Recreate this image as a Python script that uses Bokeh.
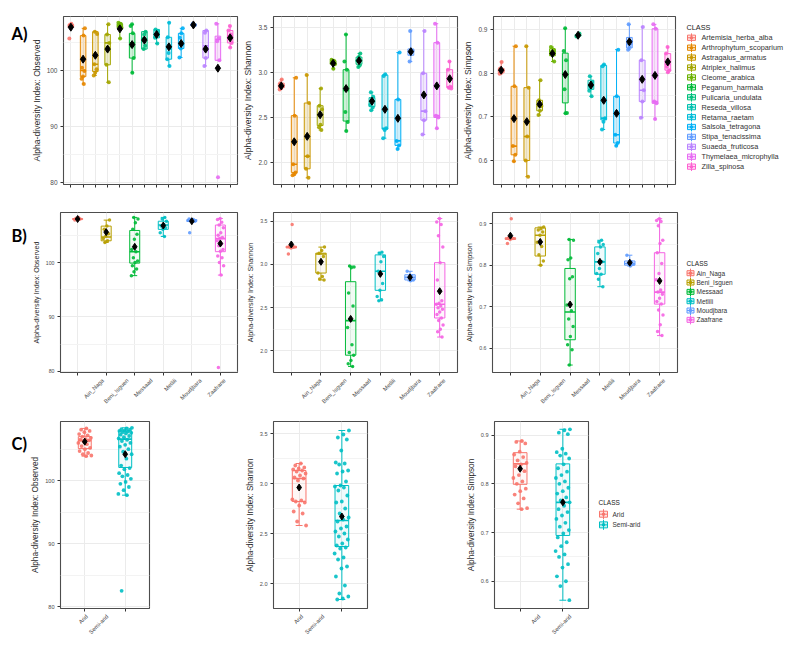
import math
from bokeh.plotting import figure
from bokeh.layouts import row, column
from bokeh.models import Range1d, FixedTicker, ColumnDataSource, PrintfTickFormatter, Spacer
from bokeh.embed import file_html
from bokeh.resources import INLINE
from bokeh.core.properties import value

FONT = "Liberation Sans"

# ---------------- categories & colours ----------------
species = ["Artemisia_herba_alba", "Arthrophytum_scoparium", "Astragalus_armatus", "Atriplex_halimus",
           "Cleome_arabica", "Peganum_harmala", "Pulicaria_undulata", "Reseda_villosa", "Retama_raetam",
           "Salsola_tetragona", "Stipa_tenacissima", "Suaeda_fruticosa", "Thymelaea_microphylla", "Zilla_spinosa"]
species_colors = ["#F8766D", "#E58700", "#C99800", "#A3A500", "#6BB100", "#00BA38", "#00BF7D",
                  "#00C0AF", "#00BCD8", "#00B0F6", "#619CFF", "#B983FF", "#E76BF3", "#FD61D1"]
sites = ["Ain_Naga", "Beni_Isguen", "Messaad", "Metlili", "Moudjbara", "Zaafrane"]
site_colors = ["#F8766D", "#B79F00", "#00BA38", "#00BFC4", "#619CFF", "#F564E3"]
climates = ["Arid", "Semi-arid"]
climate_colors = ["#F8766D", "#00BFC4"]
panel_tags = ["A)", "B)", "C)"]

obs_ticks = [80, 90, 100]
sha_ticks = [2.0, 2.5, 3.0, 3.5]
sim_ticks = [0.6, 0.7, 0.8, 0.9]

# ---------------- Row A : by plant species ----------------
# box = [lower whisker, q1, median, q3, upper whisker]
A_obs_pts = [[108.3, 108.1, 107.9, 107.6, 105.7], [107.5, 106.2, 100.5, 99.9, 98.9, 98.5, 97.6],
             [106.9, 106.5, 102.6, 101.1, 100.2, 99.6, 99.1], [108.2, 106.4, 104.9, 104.1, 101.0, 97.9],
             [108.5, 108.3, 108.0, 107.6, 105.7], [108.2, 107.9, 106.6, 104.4, 102.2, 99.6],
             [106.9, 106.4, 105.6, 104.4, 103.8], [107.3, 107.0, 106.4, 105.8, 104.8],
             [108.5, 105.9, 104.0, 103.1, 102.0, 100.8], [107.5, 106.6, 105.8, 104.6, 103.9, 102.3],
             [108.3, 108.1, 107.9], [107.1, 106.7, 103.8, 102.2, 100.8],
             [108.3, 105.7, 105.2, 101.8, 81.0], [107.9, 107.1, 106.4, 105.8, 104.9, 104.1]]
A_obs_box = [[107.6, 107.7, 107.9, 108.2, 108.3], [97.6, 98.9, 100.0, 106.2, 107.5],
             [99.1, 99.8, 101.1, 106.9, 106.9], [97.9, 101.0, 104.9, 106.4, 108.2],
             [105.7, 107.6, 107.9, 108.3, 108.5], [99.6, 102.2, 104.9, 106.6, 108.2],
             [103.8, 103.8, 105.6, 106.9, 106.9], [104.8, 105.8, 106.5, 107.3, 107.3],
             [100.8, 102.0, 104.1, 105.9, 108.5], [102.3, 103.9, 104.9, 106.6, 107.5],
             [107.9, 108.0, 108.1, 108.2, 108.3], [100.8, 102.2, 104.4, 107.1, 107.1],
             [101.8, 101.8, 105.5, 106.1, 108.3], [104.1, 104.9, 106.1, 107.1, 107.9]]
A_obs_mean = [107.7, 102.0, 102.7, 103.8, 107.4, 104.6, 105.4, 106.4, 104.2, 104.8, 108.1, 103.8, 100.4, 105.8]

A_sha_pts = [[2.92, 2.88, 2.85, 2.83, 2.81], [2.94, 2.52, 1.98, 1.89, 1.87, 1.86],
             [2.97, 2.66, 2.07, 1.93, 1.83], [2.82, 2.63, 2.59, 2.42, 2.39, 2.36],
             [3.14, 3.13, 3.11, 3.09, 3.04], [3.42, 3.12, 3.03, 2.56, 2.45, 2.35],
             [3.21, 3.17, 3.13, 3.08, 3.06], [2.78, 2.73, 2.69, 2.64, 2.61, 2.58],
             [2.98, 2.96, 2.38, 2.36, 2.27], [3.22, 2.70, 2.24, 2.19, 2.15],
             [3.46, 3.24, 3.22, 3.12], [3.46, 2.99, 2.57, 2.47, 2.31],
             [3.54, 3.33, 2.52, 2.50, 2.38], [3.12, 3.03, 2.84, 2.83, 2.82]]
A_sha_box = [[2.81, 2.83, 2.85, 2.88, 2.92], [1.86, 1.89, 1.98, 2.52, 2.94], [1.83, 1.93, 2.07, 2.66, 2.97],
             [2.36, 2.41, 2.53, 2.63, 2.82], [3.04, 3.09, 3.11, 3.13, 3.14], [2.35, 2.46, 2.80, 3.03, 3.42],
             [3.06, 3.09, 3.13, 3.17, 3.21], [2.58, 2.62, 2.68, 2.72, 2.78], [2.27, 2.37, 2.38, 2.97, 2.98],
             [2.15, 2.19, 2.24, 2.70, 3.22], [3.12, 3.19, 3.23, 3.26, 3.46], [2.31, 2.47, 2.57, 2.99, 3.46],
             [2.38, 2.50, 2.52, 3.33, 3.54], [2.82, 2.83, 2.84, 3.03, 3.12]]
A_sha_mean = [2.85, 2.23, 2.29, 2.53, 3.10, 2.82, 3.13, 2.68, 2.59, 2.49, 3.23, 2.75, 2.85, 2.93]

A_sim_pts = [[0.826, 0.811, 0.807, 0.801, 0.799], [0.862, 0.770, 0.633, 0.613, 0.598],
             [0.862, 0.767, 0.655, 0.600, 0.563], [0.784, 0.738, 0.725, 0.714, 0.704],
             [0.860, 0.854, 0.845, 0.827], [0.903, 0.851, 0.830, 0.763, 0.709, 0.708],
             [0.891, 0.887, 0.884], [0.793, 0.780, 0.767, 0.760, 0.747],
             [0.820, 0.816, 0.697, 0.689, 0.671], [0.854, 0.747, 0.659, 0.640, 0.634],
             [0.912, 0.872, 0.860, 0.854], [0.906, 0.830, 0.761, 0.735, 0.698],
             [0.912, 0.902, 0.735, 0.731, 0.695], [0.860, 0.845, 0.826, 0.815, 0.807, 0.802]]
A_sim_box = [[0.799, 0.801, 0.807, 0.811, 0.826], [0.598, 0.613, 0.633, 0.770, 0.862],
             [0.563, 0.600, 0.655, 0.767, 0.862], [0.704, 0.714, 0.725, 0.738, 0.784],
             [0.827, 0.840, 0.850, 0.856, 0.860], [0.708, 0.732, 0.797, 0.846, 0.903],
             [0.884, 0.885, 0.887, 0.889, 0.891], [0.747, 0.763, 0.770, 0.784, 0.793],
             [0.671, 0.693, 0.697, 0.818, 0.820], [0.634, 0.640, 0.659, 0.747, 0.854],
             [0.854, 0.858, 0.866, 0.882, 0.912], [0.698, 0.735, 0.761, 0.830, 0.906],
             [0.695, 0.731, 0.735, 0.902, 0.912], [0.802, 0.807, 0.820, 0.845, 0.860]]
A_sim_mean = [0.807, 0.696, 0.689, 0.729, 0.845, 0.797, 0.887, 0.773, 0.738, 0.708, 0.872, 0.786, 0.795, 0.826]

# ---------------- Row B : by site ----------------
B_obs_pts = [[108.3, 108.1, 108.0, 107.9, 107.8],
             [107.8, 106.7, 106.1, 105.3, 104.9, 104.4, 104.0, 103.7],
             [108.3, 108.0, 107.3, 106.1, 105.2, 104.3, 102.4, 102.0, 100.9, 100.3, 100.0, 99.4, 98.8, 98.3, 97.6],
             [108.3, 108.0, 107.6, 107.0, 106.7, 106.4, 106.1, 105.5, 104.8],
             [108.0, 107.9, 107.7, 107.6, 107.5, 105.5],
             [108.1, 107.9, 107.4, 106.9, 106.4, 105.5, 105.0, 104.6, 104.4, 104.0, 103.4, 103.1, 102.4,
              102.1, 101.2, 100.9, 100.0, 99.4, 97.7, 80.7]]
B_obs_box = [[107.8, 107.9, 108.0, 108.1, 108.3], [103.7, 104.0, 104.7, 106.7, 107.8],
             [97.6, 99.9, 102.0, 105.9, 108.3], [104.8, 106.1, 106.9, 107.6, 108.3],
             [107.5, 107.55, 107.7, 107.9, 108.0], [97.7, 102.0, 104.4, 106.9, 108.1]]
B_obs_mean = [108.0, 105.6, 102.9, 106.8, 107.6, 103.5]

B_sha_pts = [[3.46, 3.21, 3.20, 3.19, 3.12],
             [3.20, 3.16, 3.13, 3.09, 3.03, 2.90, 2.86, 2.83, 2.82],
             [2.98, 2.97, 2.96, 2.67, 2.52, 2.37, 2.27, 2.07, 1.98, 1.95, 1.89, 1.85, 1.82],
             [3.14, 3.13, 3.09, 3.03, 2.92, 2.78, 2.70, 2.63, 2.59, 2.58],
             [2.92, 2.87, 2.85, 2.82, 2.81],
             [3.53, 3.49, 3.46, 3.33, 3.20, 3.02, 2.82, 2.58, 2.55, 2.54, 2.52, 2.50, 2.48, 2.45, 2.42,
              2.38, 2.35, 2.30, 2.25, 2.22, 2.16]]
B_sha_box = [[3.19, 3.19, 3.20, 3.21, 3.21], [2.82, 2.90, 3.12, 3.13, 3.20], [1.82, 1.95, 2.35, 2.80, 2.98],
             [2.58, 2.70, 2.92, 3.11, 3.14], [2.81, 2.82, 2.85, 2.88, 2.92], [2.16, 2.38, 2.54, 3.02, 3.53]]
B_sha_mean = [3.23, 3.03, 2.37, 2.89, 2.85, 2.69]

B_sim_pts = [[0.912, 0.866, 0.864, 0.862, 0.852],
             [0.892, 0.888, 0.885, 0.880, 0.872, 0.855, 0.845, 0.825, 0.810, 0.800],
             [0.862, 0.860, 0.817, 0.813, 0.772, 0.767, 0.704, 0.690, 0.670, 0.652, 0.628, 0.608, 0.596, 0.559],
             [0.860, 0.856, 0.850, 0.844, 0.828, 0.808, 0.792, 0.780, 0.778, 0.766, 0.748],
             [0.824, 0.808, 0.804, 0.802, 0.798],
             [0.912, 0.908, 0.905, 0.895, 0.860, 0.852, 0.830, 0.804, 0.780, 0.765, 0.740, 0.735, 0.730,
              0.720, 0.712, 0.706, 0.692, 0.680, 0.656, 0.640, 0.630]]
B_sim_box = [[0.862, 0.862, 0.864, 0.866, 0.866], [0.800, 0.822, 0.872, 0.890, 0.892],
             [0.559, 0.620, 0.687, 0.792, 0.862], [0.748, 0.778, 0.808, 0.844, 0.860],
             [0.798, 0.800, 0.804, 0.810, 0.824], [0.630, 0.706, 0.735, 0.830, 0.912]]
B_sim_mean = [0.871, 0.856, 0.705, 0.808, 0.806, 0.762]

# ---------------- Row C : by climate ----------------
C_obs_pts = [[108.3, 108.1, 107.9, 107.7, 107.4, 107.2, 107.0, 106.8, 106.6, 106.5, 106.4, 106.2, 106.0,
              105.8, 105.5, 105.2, 105.0, 104.7, 104.4, 104.2, 104.0, 103.9],
             [108.4, 108.3, 108.2, 108.1, 108.0, 107.9, 107.8, 107.7, 107.6, 107.5, 107.3, 107.1, 106.9,
              106.7, 106.5, 106.3, 106.0, 105.7, 105.4, 105.0, 104.6, 104.2, 103.5, 102.4, 102.0, 101.8,
              101.2, 100.9, 100.7, 100.3, 99.8, 99.5, 99.0, 98.5, 97.9, 97.7, 82.5]]
C_obs_box = [[103.9, 105.1, 106.4, 107.0, 108.3], [97.7, 102.1, 106.6, 107.9, 108.4]]
C_obs_mean = [106.2, 104.2]

C_sha_pts = [[3.20, 3.18, 3.16, 3.15, 3.14, 3.13, 3.12, 3.10, 3.08, 3.06, 3.05, 3.03, 2.84, 2.83, 2.82,
              2.81, 2.78, 2.72, 2.70, 2.62, 2.58],
             [3.53, 3.49, 3.46, 3.44, 3.33, 3.21, 3.20, 3.19, 3.13, 3.12, 3.10, 3.02, 2.98, 2.97, 2.96,
              2.93, 2.88, 2.82, 2.81, 2.75, 2.70, 2.66, 2.64, 2.62, 2.57, 2.55, 2.52, 2.50, 2.47, 2.44,
              2.40, 2.38, 2.36, 2.35, 2.30, 2.26, 2.24, 2.17, 2.15, 2.07, 1.98, 1.90, 1.87, 1.85, 1.84]]
C_sha_box = [[2.58, 2.82, 3.05, 3.13, 3.20], [1.84, 2.37, 2.63, 2.98, 3.53]]
C_sha_mean = [2.96, 2.67]

C_sim_pts = [[0.888, 0.886, 0.883, 0.866, 0.860, 0.855, 0.848, 0.843, 0.840, 0.836, 0.826, 0.818, 0.812,
              0.805, 0.800, 0.790, 0.785, 0.778, 0.770, 0.760, 0.750, 0.748],
             [0.912, 0.910, 0.905, 0.902, 0.872, 0.865, 0.862, 0.858, 0.852, 0.840, 0.832, 0.825, 0.818,
              0.812, 0.805, 0.800, 0.792, 0.785, 0.780, 0.772, 0.766, 0.762, 0.755, 0.748, 0.742, 0.735,
              0.728, 0.720, 0.712, 0.705, 0.698, 0.690, 0.680, 0.672, 0.662, 0.655, 0.650, 0.635, 0.628,
              0.610, 0.600, 0.590, 0.561]]
C_sim_box = [[0.748, 0.799, 0.841, 0.864, 0.888], [0.561, 0.694, 0.762, 0.841, 0.912]]
C_sim_mean = [0.831, 0.762]

# approximate advance widths of Liberation Sans (per 1000 em), used to centre rotated labels
GLYPH_W = {"A": 667, "B": 667, "I": 278, "M": 833, "N": 722, "S": 667, "Z": 611, "_": 556, "-": 333,
           "a": 556, "b": 556, "d": 556, "e": 556, "f": 278, "g": 556, "i": 222, "j": 222, "l": 222,
           "m": 833, "n": 556, "o": 556, "r": 333, "s": 500, "t": 278, "u": 556}


def text_len(s, fs):
    return sum(GLYPH_W.get(ch, 556) for ch in s) * fs / 1000.0


def plain_fig(W, H, xr, yr):
    p = figure(width=W, height=H, x_range=xr, y_range=yr, output_backend="svg", toolbar_location=None,
               title=None, min_border_left=0, min_border_right=0, min_border_top=0, min_border_bottom=0)
    p.axis.visible = False
    p.grid.visible = False
    p.outline_line_color = None
    p.background_fill_color = "white"
    p.border_fill_color = "white"
    return p


def box_panel(names, colors, pts, box, means, yr, yticks, yfmt, ylabel, W, H, ml, mr, mt, mb,
              tick_fs, title_fs, bw, jw, fa, psize, msize):
    n = len(names)
    xs = list(range(1, n + 1))
    p = figure(width=W, height=H, x_range=Range1d(0.4, n + 0.6), y_range=Range1d(*yr),
               output_backend="svg", toolbar_location=None, title=None,
               min_border_left=ml, min_border_right=mr, min_border_top=mt, min_border_bottom=mb)
    p.background_fill_color = "white"
    p.border_fill_color = "white"
    p.outline_line_color = "#4D4D4D"
    p.outline_line_width = 1.1

    xa = p.xaxis[0]
    xa.ticker = FixedTicker(ticks=xs)
    xa.axis_line_color = None
    xa.major_tick_line_color = "#333333"
    xa.major_tick_out = 3
    xa.major_tick_in = 0
    xa.minor_tick_line_color = None
    xa.major_label_overrides = {x: "" for x in xs}
    xa.major_label_text_font_size = "0px"
    xa.major_label_standoff = 0

    step = yticks[1] - yticks[0]
    ya = p.yaxis[0]
    ya.ticker = FixedTicker(ticks=yticks, minor_ticks=[t + step / 2 for t in yticks])
    ya.formatter = PrintfTickFormatter(format=yfmt)
    ya.axis_line_color = None
    ya.major_tick_line_color = "#333333"
    ya.major_tick_out = 3
    ya.major_tick_in = 0
    ya.minor_tick_line_color = None
    ya.major_label_text_font = FONT
    ya.major_label_text_font_size = f"{tick_fs}px"
    ya.major_label_text_color = "#4D4D4D"
    ya.major_label_standoff = 2
    ya.axis_label = ylabel
    ya.axis_label_text_font = FONT
    ya.axis_label_text_font_size = f"{title_fs}px"
    ya.axis_label_text_font_style = "normal"
    ya.axis_label_text_color = "#2B2B2B"
    ya.axis_label_standoff = 2

    p.xgrid.grid_line_color = "#EBEBEB"
    p.ygrid.grid_line_color = "#EBEBEB"
    p.ygrid.minor_grid_line_color = "#F3F3F3"

    q_lo = [b[0] for b in box]
    q1 = [b[1] for b in box]
    med = [b[2] for b in box]
    q3 = [b[3] for b in box]
    q_hi = [b[4] for b in box]
    cw = bw * 0.5
    src = ColumnDataSource(dict(x=xs, lo=q_lo, q1=q1, med=med, q3=q3, hi=q_hi, mean=means, color=colors,
                                bl=[x - bw / 2 for x in xs], br=[x + bw / 2 for x in xs],
                                cl=[x - cw / 2 for x in xs], cr=[x + cw / 2 for x in xs]))
    p.segment(x0="x", y0="q3", x1="x", y1="hi", line_color="color", line_width=1, source=src)
    p.segment(x0="x", y0="q1", x1="x", y1="lo", line_color="color", line_width=1, source=src)
    p.segment(x0="cl", y0="hi", x1="cr", y1="hi", line_color="color", line_width=1, source=src)
    p.segment(x0="cl", y0="lo", x1="cr", y1="lo", line_color="color", line_width=1, source=src)
    p.vbar(x="x", width=bw, top="q3", bottom="q1", fill_color="color", fill_alpha=fa,
           line_color="color", line_width=1, source=src)
    p.segment(x0="bl", y0="med", x1="br", y1="med", line_color="color", line_width=1.6, source=src)

    px, py, pc = [], [], []
    for g, vals in enumerate(pts):
        for i, v in enumerate(vals):
            off = (((i + 1) * 0.618034 + g * 0.37) % 1.0) * 2 - 1
            px.append(xs[g] + off * jw)
            py.append(v)
            pc.append(colors[g])
    p.scatter(x=px, y=py, color=pc, size=psize, alpha=0.9, line_width=0)
    p.scatter(x="x", y="mean", marker="diamond", size=msize, color="black", source=src)
    return p


def label_strip(names, W, H, ml, mr, fs):
    # pixel-unit strip under a panel; labels rotated 45 deg, their upper-right end at the tick
    n = len(names)
    fw = W - ml - mr
    p = plain_fig(W, H, Range1d(0, W), Range1d(0, H))
    c = math.cos(math.pi / 4)
    h = fs * 1.0
    cx, cy = [], []
    for k, nm in enumerate(names):
        tick_px = ml + (k + 1 - 0.4) / (n + 0.2) * fw
        L = text_len(nm, fs)
        ex, ey = tick_px + 1.5, 1.0          # upper-right end (screen, y down from strip top)
        cx.append(ex - c * L / 2 + c * h / 2)
        cy.append(H - (ey + c * L / 2 + c * h / 2))
    p.text(x=cx, y=cy, text=names, angle=math.pi / 4, text_align="center", text_baseline="middle",
           text_font=value(FONT), text_font_size=f"{fs}px", text_color="#4D4D4D")
    return p


def legend_fig(W, H, names, colors, title_xy, key_x, text_x, y0, dy, fs, kw, kh):
    p = plain_fig(W, H, Range1d(0, W), Range1d(H, 0))
    ys = [y0 + i * dy for i in range(len(names))]
    kx = [key_x] * len(names)
    p.text(x=[title_xy[0]], y=[title_xy[1]], text=["CLASS"], text_font=value(FONT),
           text_font_size=f"{fs}px", text_color="#1A1A1A", text_baseline="middle", text_align="left")
    p.rect(x=kx, y=ys, width=kw, height=kh, fill_color=colors, fill_alpha=0.2, line_color=colors,
           line_width=1)
    p.segment(x0=kx, y0=[y - kh / 2 - 2 for y in ys], x1=kx, y1=[y + kh / 2 + 2 for y in ys],
              line_color=colors, line_width=1)
    p.segment(x0=[key_x - kw / 2] * len(ys), y0=ys, x1=[key_x + kw / 2] * len(ys), y1=ys,
              line_color=colors, line_width=1)
    p.scatter(x=kx, y=ys, color=colors, size=3.5, line_width=0)
    p.text(x=[text_x] * len(ys), y=ys, text=names, text_font=value(FONT), text_font_size=f"{fs}px",
           text_color="#333333", text_baseline="middle", text_align="left")
    return p


def tag_fig(W, H, tags, ys):
    p = plain_fig(W, H, Range1d(0, W), Range1d(H, 0))
    p.text(x=[3] * len(tags), y=ys, text=tags, text_font=value("Lato"), text_font_style="bold",
           text_font_size="16.5px", text_color="black", text_baseline="alphabetic", text_align="left")
    return p


XFS = 5.8  # rotated category label size

# ---------------- Row A ----------------
a1 = box_panel(species, species_colors, A_obs_pts, A_obs_box, A_obs_mean, (79.7, 109.6), obs_ticks, "%d",
               "Alpha-diversity Index: Observed", 212, 192, 27, 3, 8, 16, 6.5, 8.6, 0.45, 0.15, 0.2, 4, 8)
a2 = box_panel(species, species_colors, A_sha_pts, A_sha_box, A_sha_mean, (1.756, 3.62), sha_ticks, "%.1f",
               "Alpha-diversity Index: Shannon", 220, 192, 33, 3, 8, 16, 6.5, 8.6, 0.45, 0.15, 0.2, 4, 8)
a3 = box_panel(species, species_colors, A_sim_pts, A_sim_box, A_sim_mean, (0.545, 0.93), sim_ticks, "%.1f",
               "Alpha-diversity Index: Simpson", 218, 192, 31, 3, 8, 16, 6.5, 8.6, 0.45, 0.15, 0.2, 4, 8)
la = legend_fig(111, 192, species, species_colors, (8, 12), 13, 23, 24.3, 11.33, 7.3, 8, 6)

# ---------------- Row B ----------------
b1 = box_panel(sites, site_colors, B_obs_pts, B_obs_box, B_obs_mean, (79.8, 109.2), obs_ticks, "%d",
               "Alpha-diversity Index: Observed", 212, 176, 28, 3, 12, 4, 5.2, 7.2, 0.35, 0.12, 0.06, 3.5, 7)
b2 = box_panel(sites, site_colors, B_sha_pts, B_sha_box, B_sha_mean, (1.75, 3.60), sha_ticks, "%.1f",
               "Alpha-diversity Index: Shannon", 220, 176, 33, 3, 12, 4, 5.2, 7.2, 0.35, 0.12, 0.06, 3.5, 7)
b3 = box_panel(sites, site_colors, B_sim_pts, B_sim_box, B_sim_mean, (0.541, 0.927), sim_ticks, "%.1f",
               "Alpha-diversity Index: Simpson", 220, 176, 32, 3, 12, 4, 5.2, 7.2, 0.35, 0.12, 0.06, 3.5, 7)
sb1 = label_strip(sites, 212, 34, 28, 3, XFS)
sb2 = label_strip(sites, 220, 34, 33, 3, XFS)
sb3 = label_strip(sites, 220, 34, 32, 3, XFS)
lb = legend_fig(109, 210, sites, site_colors, (6, 63), 10, 16, 72.7, 9.33, 6.5, 7, 5)

# ---------------- Row C ----------------
c1 = box_panel(climates, climate_colors, C_obs_pts, C_obs_box, C_obs_mean, (79.7, 109.4), obs_ticks, "%d",
               "Alpha-diversity Index: Observed", 212, 202, 29, 91, 11, 4, 5.6, 8.2, 0.32, 0.17, 0.06, 3.8, 7)
c2 = box_panel(climates, climate_colors, C_sha_pts, C_sha_box, C_sha_mean, (1.75, 3.62), sha_ticks, "%.1f",
               "Alpha-diversity Index: Shannon", 220, 202, 33, 93, 11, 4, 5.6, 8.2, 0.32, 0.17, 0.06, 3.8, 7)
c3 = box_panel(climates, climate_colors, C_sim_pts, C_sim_box, C_sim_mean, (0.544, 0.928), sim_ticks, "%.1f",
               "Alpha-diversity Index: Simpson", 136, 202, 34, 8, 11, 4, 5.6, 8.2, 0.32, 0.17, 0.06, 3.8, 7)
sc1 = label_strip(climates, 212, 26, 29, 91, XFS)
sc2 = label_strip(climates, 220, 26, 33, 93, XFS)
sc3 = label_strip(climates, 136, 26, 34, 8, XFS)
lc = legend_fig(193, 228, climates, climate_colors, (2, 92), 7, 16, 103.7, 10.67, 6.5, 8, 6)

tags = tag_fig(20, 630, panel_tags, [25, 227, 435])

row_a = row(a1, a2, a3, la)
row_b = row(column(b1, sb1), column(b2, sb2), column(b3, sb3), lb)
row_c = row(column(c1, sc1), column(c2, sc2), column(c3, sc3), lc)
body = row(Spacer(width=8, height=630), tags, column(row_a, row_b, row_c))
layout = column(Spacer(width=789, height=8), body)
open("out.html", "w").write(file_html(layout, INLINE))
